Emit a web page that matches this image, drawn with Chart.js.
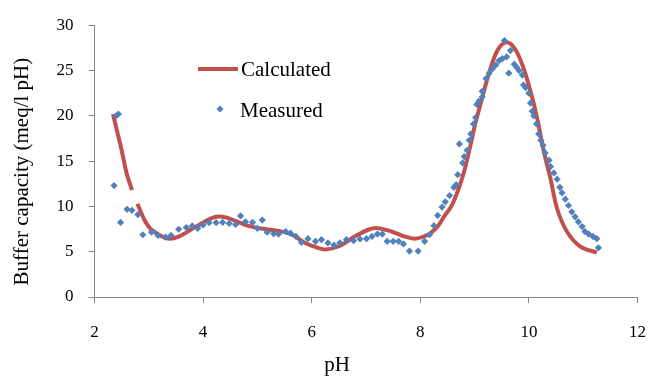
<!DOCTYPE html>
<html>
<head>
<meta charset="utf-8">
<script src="https://cdn.jsdelivr.net/npm/chart.js@4.4.0/dist/chart.umd.min.js"></script>
<style>
  body { margin: 0; background: #fff; }
</style>
</head>
<body>
<canvas id="bufferChart" width="665" height="380"></canvas>
<script>
// calculated curve, null marks the break after the first piece
const calcPH = [2.34, 2.42, 2.50, 2.59, 2.69, 2.74, 2.79, 2.92, 3.02, 3.14, 3.35, 3.56, 3.87, 4.17, 4.36, 4.60, 4.80, 5.03, 5.39, 5.64, 5.88, 6.10, 6.25, 6.50, 6.80, 7.05, 7.22, 7.47, 7.70, 7.90, 8.14, 8.32, 8.44, 8.57, 8.69, 8.80, 8.93, 9.02, 9.11, 9.27, 9.42, 9.57, 9.73, 9.88, 10.03, 10.15, 10.27, 10.40, 10.52, 10.70, 10.94, 11.25];
const calcBC = [20.2, 18.2, 16.2, 13.7, 11.8, null, 10.3, 8.5, 7.6, 7.04, 6.45, 6.7, 7.77, 8.74, 8.85, 8.4, 7.9, 7.58, 7.3, 6.87, 5.97, 5.45, 5.25, 5.6, 6.7, 7.45, 7.6, 7.23, 6.7, 6.44, 6.87, 7.8, 8.9, 10.0, 11.7, 13.7, 16.9, 19.3, 21.3, 24.8, 27.2, 28.1, 27.5, 25.6, 22.7, 19.8, 16.2, 13.0, 9.74, 7.23, 5.6, 4.9];

// measured points
const measPH = [2.36, 2.40, 2.44, 2.48, 2.60, 2.69, 2.80, 2.89, 3.05, 3.17, 3.31, 3.41, 3.55, 3.69, 3.80, 3.90, 4.00, 4.11, 4.24, 4.36, 4.48, 4.60, 4.69, 4.78, 4.91, 5.00, 5.09, 5.18, 5.30, 5.39, 5.52, 5.61, 5.71, 5.81, 5.93, 6.07, 6.18, 6.30, 6.41, 6.52, 6.64, 6.77, 6.89, 7.01, 7.11, 7.21, 7.30, 7.39, 7.50, 7.60, 7.69, 7.80, 7.96, 8.08, 8.17, 8.25, 8.32, 8.40, 8.46, 8.54, 8.62, 8.66, 8.69, 8.72, 8.78, 8.81, 8.86, 8.90, 8.93, 8.98, 9.02, 9.04, 9.08, 9.14, 9.14, 9.21, 9.27, 9.33, 9.39, 9.45, 9.51, 9.55, 9.59, 9.63, 9.66, 9.73, 9.77, 9.82, 9.88, 9.90, 9.94, 10.00, 10.03, 10.06, 10.09, 10.14, 10.18, 10.22, 10.26, 10.30, 10.37, 10.40, 10.46, 10.52, 10.57, 10.61, 10.67, 10.73, 10.79, 10.85, 10.91, 10.98, 11.03, 11.10, 11.18, 11.25, 11.28];
const measBC = [12.3, 20.0, 20.2, 8.23, 9.68, 9.57, 9.1, 6.87, 7.15, 6.8, 6.6, 6.8, 7.48, 7.66, 7.84, 7.58, 7.95, 8.2, 8.2, 8.23, 8.12, 8.0, 8.95, 8.3, 8.23, 7.58, 8.49, 7.15, 6.98, 6.94, 7.23, 7.04, 6.69, 6.04, 6.44, 6.15, 6.33, 5.97, 5.72, 5.97, 6.33, 6.22, 6.4, 6.44, 6.69, 6.94, 6.94, 6.15, 6.15, 6.15, 5.86, 5.07, 5.07, 6.15, 6.87, 7.87, 9.0, 9.92, 10.5, 11.2, 12.1, 12.4, 13.5, 16.9, 14.8, 15.5, 16.2, 17.3, 18.0, 19.1, 19.8, 21.25, 21.6, 22.1, 22.7, 24.1, 24.7, 25.2, 25.6, 26.1, 26.3, 28.3, 26.5, 24.7, 27.2, 25.7, 25.4, 25.0, 24.5, 23.4, 23.1, 22.5, 21.4, 20.5, 20.0, 19.1, 18.0, 17.3, 16.75, 15.9, 15.1, 14.4, 13.7, 13.0, 12.1, 11.5, 10.8, 10.1, 9.4, 8.85, 8.3, 7.77, 7.23, 6.94, 6.69, 6.44, 5.43];

const xTicks = [2, 4, 6, 8, 10, 12];
const yTicks = [0, 5, 10, 15, 20, 25, 30];

const serif = '"Liberation Serif", "Times New Roman", serif';
const axisGrey = '#868686';

const legendBox = {
  id: 'legendBox',
  afterDraw(chart) {
    const ctx = chart.ctx;
    const meas = chart.data.datasets[0];
    const calc = chart.data.datasets[1];
    ctx.save();
    ctx.strokeStyle = calc.borderColor;
    ctx.lineWidth = calc.borderWidth;
    ctx.beginPath();
    ctx.moveTo(198, 69);
    ctx.lineTo(238, 69);
    ctx.stroke();
    ctx.fillStyle = meas.backgroundColor;
    ctx.beginPath();
    ctx.moveTo(220, 105.5);
    ctx.lineTo(223.5, 109);
    ctx.lineTo(220, 112.5);
    ctx.lineTo(216.5, 109);
    ctx.closePath();
    ctx.fill();
    ctx.fillStyle = '#000';
    ctx.font = '21px ' + serif;
    ctx.textBaseline = 'middle';
    ctx.fillText(calc.label, 241, 70);
    ctx.fillText(meas.label, 240, 111);
    ctx.restore();
  }
};

const ctx = document.getElementById('bufferChart').getContext('2d');
new Chart(ctx, {
  type: 'scatter',
  data: {
    datasets: [{
      label: 'Measured',
      data: measPH.map((x, i) => ({ x: x, y: measBC[i] })),
      pointStyle: 'rectRot',
      pointRadius: 3.6,
      borderWidth: 0,
      backgroundColor: '#4F81BD'
    }, {
      type: 'line',
      label: 'Calculated',
      data: calcPH.map((x, i) => ({ x: x, y: calcBC[i] })),
      borderColor: '#C0504D',
      borderWidth: 4,
      pointRadius: 0,
      tension: 0.35,
      spanGaps: false,
      fill: false
    }]
  },
  options: {
    responsive: false,
    animation: false,
    layout: { padding: { top: 19, right: 24, left: 0, bottom: 0 } },
    plugins: { legend: { display: false }, tooltip: { enabled: false } },
    scales: {
      x: {
        type: 'linear',
        min: 2, max: 12,
        afterBuildTicks: s => { s.ticks = xTicks.map(v => ({ value: v })); },
        afterFit: s => { s.height = 83; },
        grid: { drawOnChartArea: false, drawTicks: true, tickLength: 6, color: axisGrey },
        border: { color: axisGrey, width: 1 },
        ticks: { color: '#000', padding: 19, font: { family: serif, size: 17 } },
        title: { display: true, text: 'pH           ', color: '#000', padding: { top: 0, bottom: 2 }, font: { family: serif, size: 21 } }
      },
      y: {
        min: 0, max: 30,
        afterBuildTicks: s => { s.ticks = yTicks.map(v => ({ value: v })); },
        afterFit: s => { s.width = 94.5; },
        grid: { drawOnChartArea: false, drawTicks: true, tickLength: 6, color: axisGrey },
        border: { color: axisGrey, width: 1 },
        ticks: { color: '#000', padding: 15, font: { family: serif, size: 17 } },
        title: { display: true, text: 'Buffer capacity (meq/l pH)    ', color: '#000', padding: { top: 10, bottom: 0 }, font: { family: serif, size: 21 } }
      }
    }
  },
  plugins: [legendBox]
});
</script>
</body>
</html>
